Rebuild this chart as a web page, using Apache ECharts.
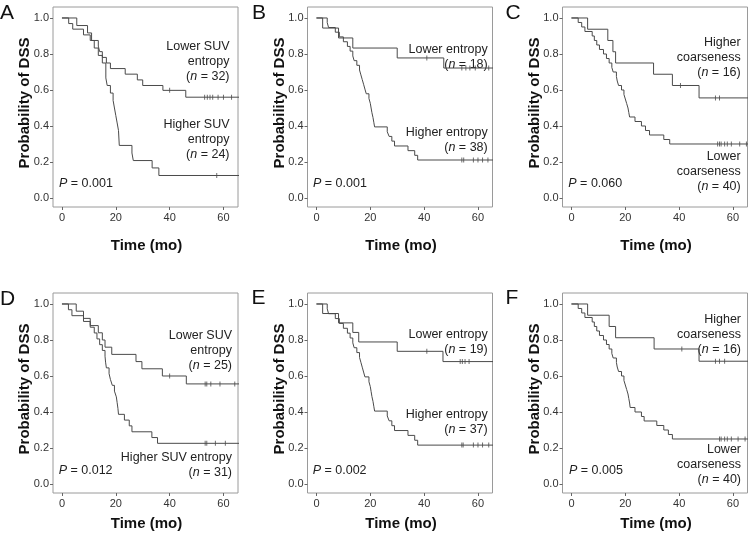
<!DOCTYPE html>
<html><head><meta charset="utf-8">
<script src="https://cdn.jsdelivr.net/npm/echarts@6/dist/echarts.min.js"></script>
<style>html,body{margin:0;padding:0;background:#fff}#c{width:749px;height:541px}</style>
</head><body><div id="c"></div><script>
// ---------- data ----------
const xTicks = [0, 20, 40, 60];
const yTicks = [0, 0.2, 0.4, 0.6, 0.8, 1.0];
const panelLetters = ['A', 'B', 'C', 'D', 'E', 'F'];
const pValues = ['0.001', '0.001', '0.060', '0.012', '0.002', '0.005'];
const xTitle = 'Time (mo)';
const yTitle = 'Probability of DSS';

// Panel A
const A_upper = [[0,1],[2.5,0.969],[4,0.938],[8,0.906],[10.5,0.875],[13.5,0.844],[14,0.813],[15,0.781],[16.5,0.75],[18,0.719],[23.5,0.688],[28,0.656],[30,0.625],[37.5,0.598],[46,0.56],[70,0.56]];
const A_upperCens = [40,53,54,55,56,58,60,63];
const A_lower = [[0,1],[5.5,0.958],[9.5,0.917],[11,0.875],[12,0.833],[13.5,0.792],[15,0.75],[16.3,0.667],[16.8,0.625],[18,0.583],[19,0.542],[19.5,0.5],[20,0.458],[20.5,0.417],[21,0.375],[21.3,0.292],[26,0.25],[26.5,0.208],[33.5,0.167],[36,0.125],[70,0.125]];
const A_lowerCens = [57.5];
// Panel B
const B_upper = [[0,1],[2.3,0.944],[8.2,0.889],[13.5,0.833],[30,0.778],[47.3,0.722],[70,0.722]];
const B_upperCens = [41,54,55.5,57,59,64];
const B_lower = [[0,1],[4,0.974],[4.5,0.947],[7,0.921],[8.5,0.895],[10,0.868],[11.5,0.842],[12.5,0.816],[13.5,0.789],[14,0.763],[15,0.737],[16,0.711],[16.5,0.684],[17,0.658],[17.5,0.632],[18,0.605],[18.5,0.579],[19.5,0.553],[20,0.526],[20.3,0.5],[20.6,0.474],[21,0.447],[21.3,0.421],[21.6,0.395],[26.3,0.368],[27,0.342],[28,0.316],[29,0.289],[34,0.263],[36.5,0.237],[37.6,0.211],[70,0.211]];
const B_lowerCens = [54,54.7,58.3,60,61.7,63.7];
// Panel C
const C_upper = [[0,1],[6,0.9375],[13.5,0.875],[15.4,0.8125],[16.4,0.75],[30.5,0.6875],[37.5,0.625],[47.4,0.556],[70,0.556]];
const C_upperCens = [40.5,53.5,55];
const C_lower = [[0,1],[2.5,0.975],[3.8,0.95],[5,0.925],[7.7,0.9],[8.5,0.875],[9.4,0.85],[10.4,0.825],[11.9,0.8],[13,0.775],[14,0.75],[15,0.725],[15.5,0.7],[16.7,0.675],[17,0.65],[17.5,0.625],[18.6,0.6],[19.5,0.575],[20,0.55],[20.5,0.525],[21,0.5],[21.3,0.475],[21.6,0.45],[23.6,0.425],[26,0.4],[27.5,0.375],[29,0.35],[34.3,0.325],[36.5,0.3],[70,0.3]];
const C_lowerCens = [54.3,55,55.6,56.9,57.9,59.4,62.5,65];
// Panel D
const D_upper = [[0,1],[5.3,0.96],[8,0.92],[10.5,0.88],[13.5,0.84],[15,0.8],[16,0.76],[18.5,0.72],[27.5,0.68],[29.7,0.64],[37.3,0.6],[46.2,0.556],[70,0.556]];
const D_upperCens = [40,53.2,53.8,55.3,58.7,64.2];
const D_lower = [[0,1],[2.4,0.968],[3.7,0.935],[8,0.903],[10.5,0.871],[12,0.839],[13,0.806],[14,0.774],[15,0.742],[16,0.71],[16.2,0.677],[16.5,0.645],[17.5,0.613],[18,0.581],[18.7,0.548],[19.5,0.516],[20.2,0.484],[20.5,0.452],[20.8,0.419],[21,0.387],[23.2,0.355],[25,0.323],[26,0.29],[33.4,0.258],[35.5,0.226],[70,0.226]];
const D_lowerCens = [53.2,53.8,57,60.7];
// Panel E
const E_upper = [[0,1],[2.3,0.947],[8.2,0.895],[13.5,0.842],[15.7,0.789],[30,0.737],[47,0.68],[70,0.68]];
const E_upperCens = [41,53.4,54.2,55.2,56.7];
const E_lower = [[0,1],[4,0.973],[4.5,0.946],[7,0.919],[8.5,0.892],[10,0.865],[11.5,0.838],[12.5,0.811],[13.5,0.784],[14,0.757],[15,0.73],[16,0.703],[16.5,0.676],[17,0.649],[17.5,0.622],[18,0.595],[19.5,0.568],[20,0.541],[20.3,0.514],[20.6,0.486],[21,0.459],[21.3,0.432],[21.6,0.405],[26.3,0.378],[27,0.351],[28,0.324],[29,0.297],[34,0.27],[36.5,0.243],[37.6,0.216],[70,0.216]];
const E_lowerCens = [54,54.5,58.3,60,61.7,64];
// Panel F
const F_upper = [[0,1],[6,0.9375],[14,0.875],[16.4,0.8125],[30.7,0.75],[47.4,0.682],[70,0.682]];
const F_upperCens = [41,53.5,55,56.9];
const F_lower = [[0,1],[2.5,0.975],[3.8,0.95],[5,0.925],[7.7,0.9],[8.5,0.875],[9.4,0.85],[10.4,0.825],[11.9,0.8],[13,0.775],[14,0.75],[15,0.725],[15.5,0.7],[16.7,0.675],[17,0.65],[17.5,0.625],[18.6,0.6],[19.5,0.575],[20,0.55],[20.5,0.525],[21,0.5],[21.3,0.475],[21.6,0.45],[21.8,0.425],[23.6,0.4],[26,0.375],[27,0.35],[31.7,0.325],[34.3,0.3],[36,0.275],[37.5,0.25],[70,0.25]];
const F_lowerCens = [55,55.6,56.9,57.9,59.4,61.9,64.5];

const curves = [
  [A_upper, A_upperCens, A_lower, A_lowerCens],
  [B_upper, B_upperCens, B_lower, B_lowerCens],
  [C_upper, C_upperCens, C_lower, C_lowerCens],
  [D_upper, D_upperCens, D_lower, D_lowerCens],
  [E_upper, E_upperCens, E_lower, E_lowerCens],
  [F_upper, F_upperCens, F_lower, F_lowerCens]
];

// group labels (upper block, lower block) and counts
const groupLabels = [
  [['Lower SUV','entropy'], ['Higher SUV','entropy']],
  [['Lower entropy'], ['Higher entropy']],
  [['Higher','coarseness'], ['Lower','coarseness']],
  [['Lower SUV','entropy'], ['Higher SUV entropy']],
  [['Lower entropy'], ['Higher entropy']],
  [['Higher','coarseness'], ['Lower','coarseness']]
];
const groupN = [[32,24],[18,38],[16,40],[25,31],[19,37],[16,40]];

// ---------- layout ----------
const colLeft = [53, 307.5, 562.5];
const rowTop = [7, 293];
const boxW = 185, boxH = 200;
const xMin = -3.33, xMax = 65.4;
const yMin = -0.05, yMax = 1.061;
const FONT = '"Liberation Sans", Arial, Helvetica, sans-serif';
const lineColor = '#4a4a4a';
const annUpper = [[229.5,46.7],[487.7,50],[740.7,42.7],[232,335.7],[487.7,335],[741,320]];
const annLower = [[229.5,125],[487.7,132.7],[740.7,156.7],[232,457.7],[487.7,415],[741,450]];
const pPos = [[59,184],[313,183.5],[568.3,184],[58.7,471],[312.7,471],[569,471]];
const letterPos = [[0,13],[252,13],[505.5,13],[0,299],[251.5,298],[505.5,298]];
const lineH = 15;

function survAt(curve, t) {
  let s = curve[0][1];
  for (const p of curve) { if (p[0] <= t) s = p[1]; }
  return s;
}

const grids = [], xAxes = [], yAxes = [], series = [], graphics = [];
for (let i = 0; i < 6; i++) {
  const c = i % 3, r = Math.floor(i / 3);
  const left = colLeft[c], top = rowTop[r];
  grids.push({ left: left, top: top, width: boxW, height: boxH, show: true, borderColor: '#9a9a9a', borderWidth: 1, backgroundColor: 'transparent', containLabel: false });
  xAxes.push({
    type: 'value', gridIndex: i, min: xMin, max: xMax, position: 'bottom',
    axisLine: { show: false, onZero: false }, splitLine: { show: false },
    axisTick: { show: true, length: 3, customValues: xTicks, lineStyle: { color: '#666' } },
    axisLabel: { customValues: xTicks, margin: 5, color: '#333', fontSize: 11, fontFamily: FONT }
  });
  yAxes.push({
    type: 'value', gridIndex: i, min: yMin, max: yMax, position: 'left',
    axisLine: { show: false, onZero: false }, splitLine: { show: false },
    axisTick: { show: true, length: 3, customValues: yTicks, lineStyle: { color: '#666' } },
    axisLabel: { customValues: yTicks, margin: 4, color: '#333', fontSize: 11, fontFamily: FONT, formatter: v => v.toFixed(1) }
  });
  const [up, upC, lo, loC] = curves[i];
  [[up, upC], [lo, loC]].forEach(([cv, cens]) => {
    series.push({ type: 'line', xAxisIndex: i, yAxisIndex: i, data: cv, step: 'end', symbol: 'none', clip: true,
      lineStyle: { color: lineColor, width: 1 }, silent: true, animation: false });
    series.push({ type: 'scatter', xAxisIndex: i, yAxisIndex: i, data: cens.map(t => [t, survAt(cv, t)]),
      symbol: 'rect', symbolSize: [1, 5], itemStyle: { color: lineColor }, silent: true, animation: false });
  });

  graphics.push({ type: 'text', x: left - 28, y: top + 96, rotation: Math.PI / 2,
    style: { text: yTitle, font: 'bold 15px ' + FONT, fill: '#111', align: 'center', verticalAlign: 'middle' } });
  graphics.push({ type: 'text', x: left + boxW / 2 + 1, y: (r === 0 ? 246 : 524),
    style: { text: xTitle, font: 'bold 15px ' + FONT, fill: '#111', align: 'center', verticalAlign: 'middle' } });
  graphics.push({ type: 'text', x: letterPos[i][0], y: letterPos[i][1],
    style: { text: panelLetters[i], font: '21px ' + FONT, fill: '#111', align: 'left', verticalAlign: 'middle' } });
  graphics.push({ type: 'text', x: pPos[i][0], y: pPos[i][1],
    style: { text: '{i|P} = ' + pValues[i], font: '12.5px ' + FONT, fill: '#222', align: 'left', verticalAlign: 'middle',
      rich: { i: { fontStyle: 'italic', fontSize: 12.5, fontFamily: FONT, fill: '#222' } } } });
  [annUpper[i], annLower[i]].forEach((pos, k) => {
    const lines = groupLabels[i][k];
    lines.forEach((ln, j) => {
      graphics.push({ type: 'text', x: pos[0], y: pos[1] + j * lineH,
        style: { text: ln, font: '12.5px ' + FONT, fill: '#222', align: 'right', verticalAlign: 'middle' } });
    });
    graphics.push({ type: 'text', x: pos[0], y: pos[1] + lines.length * lineH,
      style: { text: '({i|n} = ' + groupN[i][k] + ')', font: '12.5px ' + FONT, fill: '#222', align: 'right', verticalAlign: 'middle',
        rich: { i: { fontStyle: 'italic', fontSize: 12.5, fontFamily: FONT, fill: '#222' } } } });
  });
}

const chart = echarts.init(document.getElementById('c'), null, { renderer: 'canvas' });
chart.setOption({
  backgroundColor: '#fff',
  animation: false,
  grid: grids, xAxis: xAxes, yAxis: yAxes, series: series,
  graphic: { elements: graphics }
});
</script></body></html>
